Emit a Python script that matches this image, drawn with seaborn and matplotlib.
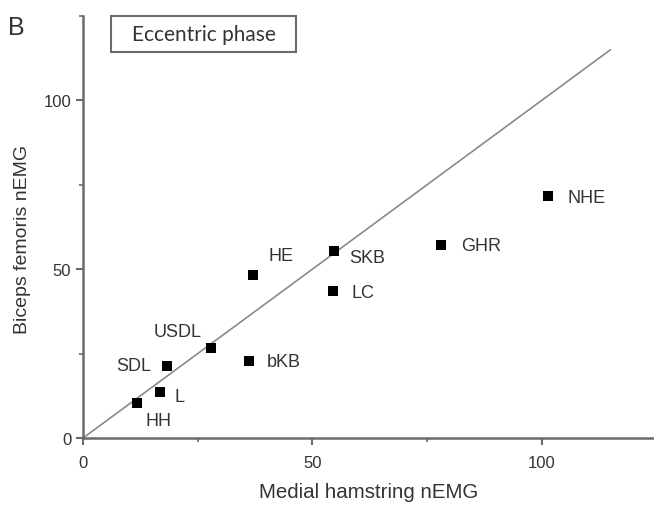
import matplotlib
matplotlib.use("Agg")
import matplotlib.pyplot as plt
import seaborn as sns
import pandas as pd
from matplotlib.ticker import MultipleLocator
from matplotlib.patches import Rectangle

exercises = ["HH", "L", "SDL", "USDL", "bKB", "HE", "SKB", "LC", "GHR", "NHE"]
medial_hamstring = [11.7, 16.7, 18.2, 27.8, 36.1, 37.0, 54.8, 54.4, 78.0, 101.3]
biceps_femoris = [10.4, 13.6, 21.2, 26.6, 22.8, 48.2, 55.4, 43.5, 57.3, 71.6]
identity_x = [0, 115]
identity_y = [0, 115]

# label offsets (points) and alignment
label_dx = [16, 11, -11, -24, 13, 11, 11, 14, 15, 14]
label_dy = [-13, -3, 1, 12, 0, 14, -5, -1, -1, -1]
label_ha = ["center", "left", "right", "center", "left", "left", "left", "left", "left", "left"]

df = pd.DataFrame({"mh": medial_hamstring, "bf": biceps_femoris, "ex": exercises})
line_df = pd.DataFrame({"x": identity_x, "y": identity_y})

sns.set_theme(style="ticks")
plt.rcParams["font.family"] = ["Liberation Sans", "DejaVu Sans"]

fig = plt.figure(figsize=(6.54, 5.06), dpi=100)
ax = fig.add_axes([0.127, 0.1324, 0.873, 0.834])

gray = "#6a6a6a"
sns.lineplot(data=line_df, x="x", y="y", ax=ax, color="#8a8a8a", linewidth=1.2)
sns.scatterplot(data=df, x="mh", y="bf", ax=ax, marker="s", s=42, color="black",
                edgecolor="black", linewidth=0, zorder=5)

for x, y, t, dx, dy, ha in zip(medial_hamstring, biceps_femoris, exercises, label_dx, label_dy, label_ha):
    ax.annotate(t, (x, y), xytext=(dx, dy), textcoords="offset points",
                ha=ha, va="center", fontsize=13, color="#333333")

ax.set_xlim(0, 124.5)
ax.set_ylim(0, 125)
ax.xaxis.set_major_locator(MultipleLocator(50))
ax.xaxis.set_minor_locator(MultipleLocator(25))
ax.yaxis.set_major_locator(MultipleLocator(50))
ax.yaxis.set_minor_locator(MultipleLocator(25))

for side in ["top", "right"]:
    ax.spines[side].set_visible(False)
for side in ["left", "bottom"]:
    ax.spines[side].set_color(gray)
    ax.spines[side].set_linewidth(1.8)

ax.tick_params(which="major", direction="out", length=5, width=1.5, color=gray,
               labelsize=12, labelcolor="#333333")
ax.tick_params(axis="x", which="major", pad=7)
ax.tick_params(which="minor", direction="out", length=3, width=1.2, color=gray)

ax.set_xlabel("Medial hamstring nEMG", fontsize=14.8, color="#333333", labelpad=9)
ax.set_ylabel("Biceps femoris nEMG", fontsize=14, color="#333333")
ax.yaxis.set_label_coords(-0.091, 0.472)

fig.text(0.012, 0.945, "B", fontsize=18, color="#333333", ha="left", va="center")

# title box (figure-fraction coordinates)
fig.patches.append(Rectangle((111 / 654, 1 - 53 / 506), 185 / 654, 36 / 506,
                             transform=fig.transFigure, facecolor="white",
                             edgecolor=gray, linewidth=1.5, zorder=10))
fig.text(203.5 / 654, 1 - 35 / 506, "Eccentric phase", fontsize=15, color="#333333",
         ha="center", va="center", family=["Lato", "DejaVu Sans"], zorder=11)

fig.savefig("out.png", dpi=100)
